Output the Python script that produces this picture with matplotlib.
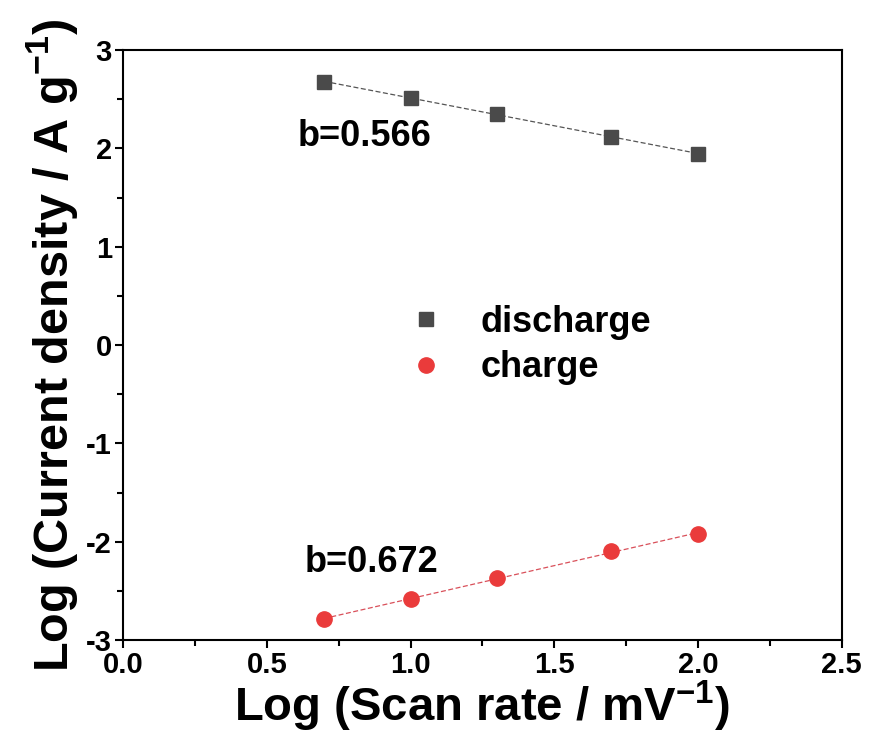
import numpy as np
import matplotlib
matplotlib.use('Agg')
import matplotlib.pyplot as plt
from matplotlib.ticker import MultipleLocator

plt.rcParams['font.family'] = ['Liberation Sans', 'DejaVu Sans']
plt.rcParams['font.weight'] = 'bold'
plt.rcParams['axes.unicode_minus'] = False
plt.rcParams['mathtext.fontset'] = 'custom'
plt.rcParams['mathtext.rm'] = 'Liberation Sans:bold'
plt.rcParams['mathtext.bf'] = 'Liberation Sans:bold'

# log scan rate (5, 10, 20, 50, 100 mV/s)
log_rate = [0.699, 1.0, 1.301, 1.699, 2.0]
discharge = [2.676, 2.514, 2.350, 2.117, 1.944]
charge = [-2.786, -2.583, -2.369, -2.095, -1.922]
b_labels = ['b=0.566', 'b=0.672']

fig = plt.figure(figsize=(8.75, 7.4), dpi=100)
ax = fig.add_axes([0.1406, 0.1351, 0.8214, 0.7973])

x = np.array(log_rate)
# fitted lines
for ys, c in [(discharge, '#555555'), (charge, '#d9505a')]:
    k, b0 = np.polyfit(x, ys, 1)
    ax.plot(x, k * x + b0, ls='--', color=c, lw=0.9, dashes=(4, 2), zorder=1)

ax.plot(log_rate, discharge, 's', color='#4a4a4a', ms=10, label='discharge', zorder=3)
ax.plot(log_rate, charge, 'o', color='#ea3b3b', ms=11, label='charge', zorder=3)

ax.text(0.841, 2.117, b_labels[0], fontsize=26, fontweight='bold', ha='center', va='center')
ax.text(0.866, -2.207, b_labels[1], fontsize=26, fontweight='bold', ha='center', va='center')

ax.set_xlim(0, 2.5)
ax.set_ylim(-3, 3)
ax.xaxis.set_major_locator(MultipleLocator(0.5))
ax.xaxis.set_minor_locator(MultipleLocator(0.25))
ax.yaxis.set_major_locator(MultipleLocator(1))
ax.yaxis.set_minor_locator(MultipleLocator(0.5))
ax.xaxis.set_major_formatter(matplotlib.ticker.FormatStrFormatter('%.1f'))
ax.tick_params(which='major', direction='out', length=6, width=1.5, labelsize=21, pad=2)
ax.tick_params(which='minor', direction='out', length=4, width=1.5)
for s in ax.spines.values():
    s.set_linewidth(1.5)

ax.set_xlabel(r'Log (Scan rate / mV$^{\mathbf{-1}}$)', fontsize=34, fontweight='bold', labelpad=0)
ax.set_ylabel(r'Log (Current density / A g$^{\mathbf{-1}}$)', fontsize=35, fontweight='bold', labelpad=4)

ax.legend(loc='center', bbox_to_anchor=(0.566, 0.5), frameon=False,
          handlelength=1.0, handletextpad=1.0, labelspacing=0.3,
          prop={'weight': 'bold', 'size': 26})

fig.savefig('out.png', dpi=100)
